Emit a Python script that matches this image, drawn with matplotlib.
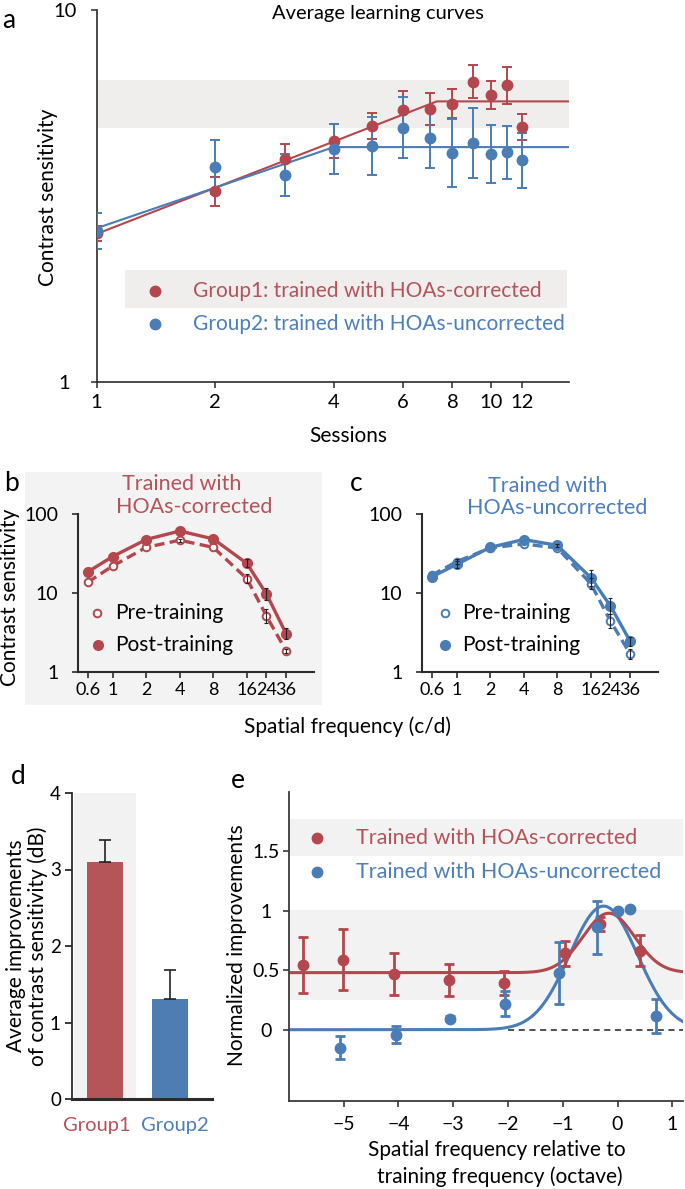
import numpy as np
import matplotlib
matplotlib.use('Agg')
import matplotlib.pyplot as plt
from matplotlib.patches import Rectangle
from matplotlib.ticker import NullLocator, FixedLocator

plt.rcParams['font.family'] = ['Lato', 'DejaVu Sans']
plt.rcParams['axes.unicode_minus'] = True

W, H = 685, 1189
RED = '#B3474D'
BLUE = '#4A7CB6'
RED_TXT = '#B5535A'
BLUE_TXT = '#4D7FB9'
AXC = '#2b2b2b'
BAND = '#EFEEEC'
BG = '#F3F3F3'

# ---------------- data ----------------
# panel a: learning curves
sessions = [1, 2, 3, 4, 5, 6, 7, 8, 9, 10, 11, 12]
g1_cs = [2.51, 3.26, 3.97, 4.44, 4.88, 5.38, 5.42, 5.60, 6.42, 5.91, 6.28, 4.85]
g1_err_log = [0.02, 0.039, 0.040, 0.045, 0.034, 0.051, 0.043, 0.039, 0.045, 0.037, 0.050, 0.035]
g2_cs = [2.55, 3.79, 3.60, 4.23, 4.31, 4.82, 4.52, 4.13, 4.38, 4.11, 4.14, 3.94]
g2_err_log = [0.049, 0.072, 0.057, 0.067, 0.078, 0.082, 0.081, 0.092, 0.094, 0.078, 0.070, 0.075]
g1_fit_x = [1, 7.3, 15.8]
g1_fit_y = [2.50, 5.68, 5.68]
g2_fit_x = [1, 4, 15.8]
g2_fit_y = [2.59, 4.28, 4.28]
session_ticks = [1, 2, 4, 6, 8, 10, 12]
band_a = (4.83, 6.48)

# panels b, c: CSFs
sf = [0.6, 1, 2, 4, 8, 16, 24, 36]
sf_labels = ['0.6', '1', '2', '4', '8', '16', '24', '36']
b_pre = [13.7, 21.9, 37.8, 46.6, 37.8, 15.2, 5.1, 1.85]
b_pre_err_log = [0, 0, 0, 0.02, 0, 0.06, 0.09, 0.03]
b_post = [18.5, 28.9, 47.5, 60.9, 48.4, 23.7, 9.7, 3.05]
b_post_err_log = [0, 0, 0, 0, 0, 0.05, 0.08, 0.07]
c_pre = [16.8, 24.9, 37.1, 41.8, 37.1, 13.1, 4.4, 1.70]
c_pre_err_log = [0, 0.03, 0, 0, 0, 0.07, 0.09, 0.06]
c_post = [16.0, 23.0, 37.8, 47.5, 40.1, 15.6, 6.85, 2.45]
c_post_err_log = [0, 0.04, 0, 0, 0.02, 0.10, 0.10, 0.06]

# panel d: average improvements
groups = ['Group1', 'Group2']
improvements = [3.10, 1.31]
improvement_err = [0.28, 0.37]

# panel e: normalized improvements
e_red_x = [-5.74, -5.01, -4.08, -3.08, -2.08, -0.955, -0.32, 0.41]
e_red_y = [0.547, 0.587, 0.469, 0.419, 0.391, 0.642, 0.888, 0.665]
e_red_err = [0.237, 0.257, 0.173, 0.137, 0.10, 0.105, 0.06, 0.13]
e_blue_x = [-5.07, -4.045, -3.05, -2.06, -1.06, -0.377, 0.0, 0.22, 0.705]
e_blue_y = [-0.151, -0.042, 0.092, 0.218, 0.478, 0.86, 1.0, 1.014, 0.115]
e_blue_err = [0.094, 0.07, 0.02, 0.106, 0.26, 0.22, 0.0, 0.0, 0.144]
# fitted gaussian parameters: baseline, amplitude, centre, sigma
e_red_fit = (0.48, 0.50, -0.16, 0.47)
e_blue_fit = (0.0, 1.04, -0.255, 0.62)
e_xticks = [-5, -4, -3, -2, -1, 0, 1]
e_yticks = [0, 0.5, 1, 1.5]
e_ytick_labels = ['0', '0.5', '1', '1.5']
e_bands = [(1.461, 1.777), (0.251, 1.008)]

# ---------------- figure ----------------
fig = plt.figure(figsize=(W / 100, H / 100), dpi=100)
fig.patch.set_facecolor('white')


def add_ax(l, t, r, b):
    return fig.add_axes([l / W, 1 - b / H, (r - l) / W, (b - t) / H])


def ftext(x, y, s, **kw):
    kw.setdefault('ha', 'center')
    kw.setdefault('va', 'center')
    return fig.text(x / W, 1 - y / H, s, **kw)


def fmarker(x, y, **kw):
    fig.add_artist(plt.Line2D([x / W], [1 - y / H], transform=fig.transFigure, **kw))


def log_err(vals, errs):
    v = np.asarray(vals, float)
    e = np.asarray(errs, float)
    return [v - v / 10 ** e, v * 10 ** e - v]


def style_spines(ax, lw, color=AXC):
    for s in ['top', 'right']:
        ax.spines[s].set_visible(False)
    for s in ['left', 'bottom']:
        ax.spines[s].set_linewidth(lw)
        ax.spines[s].set_color(color)


# ---------------- panel a ----------------
axa = add_ax(96.5, 10, 569, 382)
axa.set_xscale('log')
axa.set_yscale('log')
axa.set_xlim(1, 15.8)
axa.set_ylim(1, 10)
axa.axhspan(*band_a, color=BAND, lw=0, zorder=0)
axa.add_patch(Rectangle((0.061, 0.199), 0.934, 0.102, transform=axa.transAxes,
                        facecolor=BAND, edgecolor='none', zorder=0.5))
axa.plot(g1_fit_x, g1_fit_y, color=RED, lw=1.5, zorder=2)
axa.plot(g2_fit_x, g2_fit_y, color=BLUE, lw=1.5, zorder=2)
axa.errorbar(sessions, g1_cs, yerr=log_err(g1_cs, g1_err_log), fmt='o', color=RED,
             ms=7.5, elinewidth=1.4, capsize=3.5, capthick=1.4, zorder=3)
axa.errorbar(sessions, g2_cs, yerr=log_err(g2_cs, g2_err_log), fmt='o', color=BLUE,
             ms=7.5, elinewidth=1.4, capsize=3.5, capthick=1.4, zorder=3)
axa.xaxis.set_major_locator(FixedLocator(session_ticks))
axa.xaxis.set_minor_locator(NullLocator())
axa.set_xticklabels([str(s) for s in session_ticks])
axa.yaxis.set_major_locator(FixedLocator([1, 10]))
axa.yaxis.set_minor_locator(NullLocator())
axa.set_yticklabels(['1', '10'])
style_spines(axa, 1.2)
axa.tick_params(axis='x', direction='out', length=4, width=1.1, labelsize=14.5, pad=4.5, color=AXC)
axa.tick_params(axis='y', direction='out', length=4, width=1.1, labelsize=14.5, pad=19, color=AXC)
for lab in axa.get_yticklabels():
    lab.set_ha('center')

fmarker(155, 291, marker='o', color=RED, ms=7.5, linestyle='none')
fmarker(155, 324, marker='o', color=BLUE, ms=7.5, linestyle='none')
ftext(193.4, 291, 'Group1: trained with HOAs-corrected', ha='left', color=RED_TXT, fontsize=15)
ftext(193.4, 324, 'Group2: trained with HOAs-uncorrected', ha='left', color=BLUE_TXT, fontsize=15)
ftext(377.7, 13, 'Average learning curves', fontsize=14.5)
ftext(48, 197, 'Contrast sensitivity', rotation=90, fontsize=15)
ftext(348, 436, 'Sessions', fontsize=15)
ftext(9, 20, 'a', fontsize=19)

# ---------------- panels b, c ----------------
fig.patches.append(Rectangle((24.9 / W, 1 - 705 / H), (321.8 - 24.9) / W, (705 - 472) / H,
                             transform=fig.transFigure, facecolor=BG, edgecolor='none', zorder=-1))


def draw_err(ax, vals, errs):
    idx = [i for i, e in enumerate(errs) if e > 0]
    xs = [sf[i] for i in idx]
    vs = [vals[i] for i in idx]
    es = [errs[i] for i in idx]
    ax.errorbar(xs, vs, yerr=log_err(vs, es), fmt='none', ecolor='#222', elinewidth=0.8,
                capsize=1.6, capthick=0.8, zorder=4)


def csf_panel(l, r, pre, pre_e, post, post_e, color):
    ax = add_ax(l, 514, r, 672)
    ax.set_facecolor('none')
    ax.set_xscale('log')
    ax.set_yscale('log')
    ax.set_xlim(0.49, 64)
    ax.set_ylim(1, 100)
    ax.plot(sf, pre, color=color, lw=2.4, dashes=(3, 1.6), zorder=2)
    ax.plot(sf, post, color=color, lw=2.4, zorder=2)
    draw_err(ax, pre, pre_e)
    draw_err(ax, post, post_e)
    ax.plot(sf, pre, 'o', ms=5.5, mfc='white', mec=color, mew=1.4, zorder=3)
    ax.plot(sf, post, 'o', ms=7, color=color, zorder=3.5)
    ax.xaxis.set_major_locator(FixedLocator(sf))
    ax.xaxis.set_minor_locator(NullLocator())
    ax.set_xticklabels(sf_labels)
    ax.yaxis.set_major_locator(FixedLocator([1, 10, 100]))
    ax.yaxis.set_minor_locator(NullLocator())
    ax.set_yticklabels(['1', '10', '100'])
    style_spines(ax, 1.5)
    ax.tick_params(axis='x', direction='out', length=4, width=1.2, labelsize=13, pad=3.5, color=AXC)
    ax.tick_params(axis='y', direction='out', length=4, width=1.2, labelsize=14, pad=10, color=AXC)
    return ax


axb = csf_panel(78, 314, b_pre, b_pre_err_log, b_post, b_post_err_log, RED)
axc = csf_panel(422, 658, c_pre, c_pre_err_log, c_post, c_post_err_log, BLUE)

fmarker(97, 613, marker='o', ms=5.5, mfc='white', mec=RED, mew=1.4, linestyle='none')
fmarker(98, 645, marker='o', ms=7, color=RED, linestyle='none')
ftext(115, 613, 'Pre-training', ha='left', fontsize=15)
ftext(115.5, 645, 'Post-training', ha='left', fontsize=15)
fmarker(444.5, 613, marker='o', ms=5.5, mfc='white', mec=BLUE, mew=1.4, linestyle='none')
fmarker(444.5, 645, marker='o', ms=7, color=BLUE, linestyle='none')
ftext(462, 613, 'Pre-training', ha='left', fontsize=15)
ftext(462, 645, 'Post-training', ha='left', fontsize=15)

ftext(182, 484, 'Trained with', color=RED_TXT, fontsize=15.5)
ftext(194, 507, 'HOAs-corrected', color=RED_TXT, fontsize=15.5)
ftext(547.5, 486, 'Trained with', color=BLUE_TXT, fontsize=15.5)
ftext(556.7, 508, 'HOAs-uncorrected', color=BLUE_TXT, fontsize=15.5)
ftext(10, 597, 'Contrast sensitivity', rotation=90, fontsize=15)
ftext(347, 727, 'Spatial frequency (c/d)', fontsize=15)
ftext(11, 483, 'b', fontsize=19)
ftext(356, 483, 'c', fontsize=19)

# ---------------- panel d ----------------
axd = add_ax(72, 793, 212, 1099)
axd.set_xlim(-0.504, 1.634)
axd.set_ylim(0, 4)
axd.axvspan(-0.47, 0.47, color='#F2F2F2', lw=0, zorder=0)
xpos = np.arange(len(groups))
axd.bar(xpos, improvements, width=0.55, color=['#B5555A', '#4E7DB4'], zorder=2)
axd.errorbar(xpos, improvements, yerr=[[0, 0], improvement_err], fmt='none', ecolor='#222',
             elinewidth=1.2, capsize=4.5, capthick=1.2, zorder=3)
# category labels sit slightly offset from bar centres, as in the original
axd.set_xticks([-0.12, 1.07])
axd.set_xticklabels(groups)
for lab, c in zip(axd.get_xticklabels(), [RED_TXT, BLUE_TXT]):
    lab.set_color(c)
axd.set_yticks([0, 1, 2, 3, 4])
style_spines(axd, 1.3)
axd.spines['bottom'].set_linewidth(2.2)
axd.tick_params(axis='x', length=0, labelsize=14.5, pad=13)
axd.tick_params(axis='y', direction='out', length=5, width=1.3, labelsize=13.5, pad=3, color=AXC)
ftext(27, 946, 'Average improvements\nof contrast sensitivity (dB)', rotation=90,
      fontsize=15, linespacing=1.1, multialignment='center')
ftext(18, 777, 'd', fontsize=19)

# ---------------- panel e ----------------
axe = add_ax(289.3, 792, 683.3, 1101)
axe.set_xlim(-5.99, 1.2)
axe.set_ylim(-0.6, 2.0)
for lo, hi in e_bands:
    axe.axhspan(lo, hi, color='#F2F2F2', lw=0, zorder=0)
axe.plot([-2, 1.2], [0, 0], color='#222', lw=1.1, dashes=(4, 3), zorder=1)
xx = np.linspace(-5.99, 1.2, 400)
for (b0, amp, mu, sg), col in [(e_blue_fit, BLUE), (e_red_fit, RED)]:
    axe.plot(xx, b0 + amp * np.exp(-(xx - mu) ** 2 / (2 * sg ** 2)), color=col, lw=2.2, zorder=2)
axe.errorbar(e_red_x, e_red_y, yerr=e_red_err, fmt='o', color=RED, ms=7.5,
             elinewidth=2, capsize=3.5, capthick=2, zorder=3)
axe.errorbar(e_blue_x, e_blue_y, yerr=e_blue_err, fmt='o', color=BLUE, ms=7.5,
             elinewidth=2, capsize=3.5, capthick=2, zorder=3)
axe.set_xticks(e_xticks)
axe.set_xticklabels([str(v).replace('-', '\u2212') for v in e_xticks])
axe.set_yticks(e_yticks)
axe.set_yticklabels(e_ytick_labels)
style_spines(axe, 1.3, '#3a3a3a')
axe.tick_params(axis='x', direction='out', length=4, width=1.2, labelsize=14, pad=7, color='#3a3a3a')
axe.tick_params(axis='y', direction='out', length=4, width=1.2, labelsize=14, pad=13, color='#3a3a3a')
for lab in axe.get_yticklabels():
    lab.set_ha('center')

fmarker(317, 838, marker='o', ms=7.5, color=RED, linestyle='none')
fmarker(317, 872, marker='o', ms=7.5, color=BLUE, linestyle='none')
ftext(356, 838, 'Trained with HOAs-corrected', ha='left', color=RED_TXT, fontsize=15.5)
ftext(356, 872, 'Trained with HOAs-uncorrected', ha='left', color=BLUE_TXT, fontsize=15.5)
ftext(237, 945, 'Normalized improvements', rotation=90, fontsize=15)
ftext(497, 1150, 'Spatial frequency relative to', fontsize=15)
ftext(500, 1177, 'training frequency (octave)', fontsize=15)
ftext(238, 780, 'e', fontsize=19)

fig.savefig('out.png', dpi=100)
